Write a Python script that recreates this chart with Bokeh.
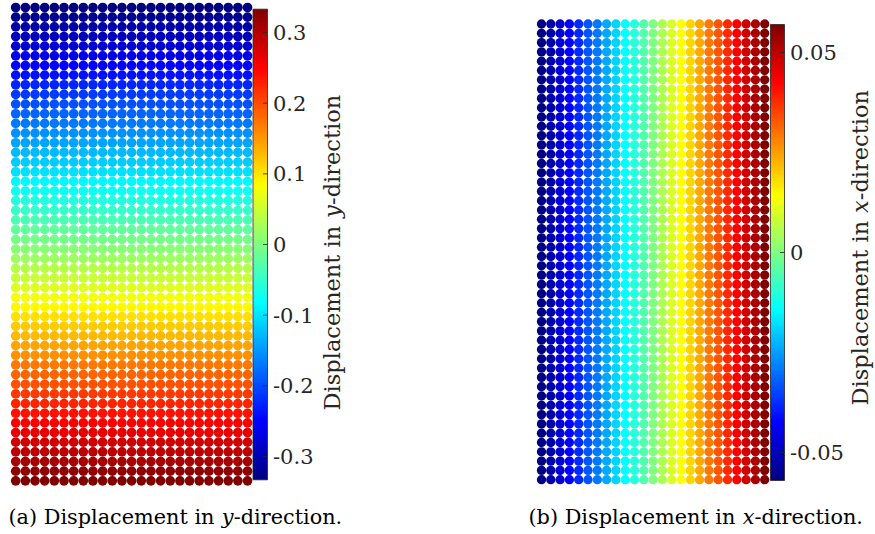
import numpy as np
from math import pi
from bokeh.plotting import figure
from bokeh.models import Range1d, ColumnDataSource, LinearColorMapper
from bokeh.core.properties import value
from bokeh.embed import file_html
from bokeh.resources import INLINE

# ---------------- data ----------------
grid_cols = list(range(25))          # node columns (left -> right)
grid_rows = list(range(50))          # node rows (top -> bottom)

# (a) displacement in y-direction, one value per row (top -> bottom)
uy_rows = [-0.333, -0.320, -0.306, -0.292, -0.279, -0.265, -0.252, -0.238, -0.224, -0.211,
           -0.197, -0.184, -0.170, -0.156, -0.143, -0.129, -0.116, -0.102, -0.088, -0.075,
           -0.061, -0.048, -0.034, -0.020, -0.007, 0.007, 0.020, 0.034, 0.048, 0.061,
           0.075, 0.088, 0.102, 0.116, 0.129, 0.143, 0.156, 0.170, 0.184, 0.197,
           0.211, 0.224, 0.238, 0.252, 0.265, 0.279, 0.292, 0.306, 0.320, 0.333]

# (b) displacement in x-direction, one value per column (left -> right)
ux_cols = [-0.057, -0.052, -0.048, -0.043, -0.038, -0.033, -0.029, -0.024, -0.019, -0.014,
           -0.010, -0.005, 0.000, 0.005, 0.010, 0.014, 0.019, 0.024, 0.029, 0.033,
           0.038, 0.043, 0.048, 0.052, 0.057]

ticks_a = [-0.3, -0.2, -0.1, 0.0, 0.1, 0.2, 0.3]
tick_labels_a = ["-0.3", "-0.2", "-0.1", "0", "0.1", "0.2", "0.3"]
ticks_b = [-0.05, 0.0, 0.05]
tick_labels_b = ["-0.05", "0", "0.05"]

label_a = ["Displacement in ", "y", "-direction"]
label_b = ["Displacement in ", "x", "-direction"]
caption_a = ["(a) Displacement in ", "y", "-direction."]
caption_b = ["(b) Displacement in ", "x", "-direction."]

# ---------------- styling / layout ----------------
W, H = 875, 534
FONT = "DejaVu Serif"
TXT = "#262626"


def jet_palette(n=256):
    pal = []
    for i in range(n):
        t = i / (n - 1)
        r = min(max(1.5 - abs(4 * t - 3), 0), 1)
        g = min(max(1.5 - abs(4 * t - 2), 0), 1)
        b = min(max(1.5 - abs(4 * t - 1), 0), 1)
        pal.append("#%02x%02x%02x" % (round(r * 255), round(g * 255), round(b * 255)))
    return pal


JET = jet_palette()


def xr(v0, p0, v1, p1):
    s = (p1 - p0) / (v1 - v0)
    return Range1d(start=v0 - p0 / s, end=v0 + (W - p0) / s)


def yr(v0, t0, v1, t1):
    # t0/t1 are pixel positions measured from the top of the page
    p0, p1 = H - t0, H - t1
    s = (p1 - p0) / (v1 - v0)
    return Range1d(start=v0 - p0 / s, end=v0 + (H - p0) / s)


# approximate advance widths (em) of DejaVu Serif, used to chain text pieces
EM = {" ": 0.318, "(": 0.390, ")": 0.390, "a": 0.596, "b": 0.642, "D": 0.830, "i": 0.320,
      "s": 0.513, "p": 0.642, "l": 0.320, "c": 0.560, "e": 0.592, "m": 0.948, "n": 0.645,
      "t": 0.402, "-": 0.338, "d": 0.642, "r": 0.478, "o": 0.602, ".": 0.318,
      "x": 0.565, "y": 0.575}


def text_w(s, size):
    return sum(EM.get(ch, 0.6) for ch in s) * size


p = figure(width=W, height=H, x_range=Range1d(0, W), y_range=Range1d(0, H),
           x_axis_type=None, y_axis_type=None, toolbar_location=None,
           output_backend="svg", min_border=0, outline_line_color=None,
           background_fill_color="white", border_fill_color="white")

# panel geometry (pixel anchors)
A_X0, A_Y0, A_STEP = 15.2, 7.0, 9.66
B_X0, B_Y0, B_STEP = 541.0, 23.5, 9.3
nc, nr = len(grid_cols) - 1, len(grid_rows) - 1

p.extra_x_ranges = {
    "ax": xr(0, A_X0, nc, A_X0 + nc * A_STEP),
    "bx": xr(0, B_X0, nc, B_X0 + nc * B_STEP),
}
p.extra_y_ranges = {
    "ay": yr(0, A_Y0, nr, A_Y0 + nr * A_STEP),
    "by": yr(0, B_Y0, nr, B_Y0 + nr * B_STEP),
    "ca": yr(0.3, 32, -0.3, 456),
    "cb": yr(0.05, 52, -0.05, 452),
}

# ---------------- dot grids ----------------
xs = [c for r in grid_rows for c in grid_cols]
ys = [r for r in grid_rows for c in grid_cols]

map_a = LinearColorMapper(palette=JET, low=min(uy_rows), high=max(uy_rows))
map_b = LinearColorMapper(palette=JET, low=min(ux_cols), high=max(ux_cols))

src_a = ColumnDataSource(dict(x=xs, y=ys, v=[uy_rows[r] for r in ys]))
src_b = ColumnDataSource(dict(x=xs, y=ys, v=[ux_cols[c] for c in xs]))

p.circle(x="x", y="y", radius=0.5, source=src_a, line_color=None,
         fill_color={"field": "v", "transform": map_a},
         x_range_name="ax", y_range_name="ay")
p.circle(x="x", y="y", radius=0.5, source=src_b, line_color=None,
         fill_color={"field": "v", "transform": map_b},
         x_range_name="bx", y_range_name="by")


# ---------------- colour bars ----------------
def colorbar(mapper, rname, x0, x1, ticks, labels, lab_x, pieces, lab_base_x, lab_start_top):
    lo, hi = mapper.low, mapper.high
    grad = np.linspace(lo, hi, 256).reshape(256, 1)
    p.image(image=[grad], x=x0, y=lo, dw=x1 - x0, dh=hi - lo, color_mapper=mapper,
            y_range_name=rname)
    p.quad(left=x0, right=x1, bottom=lo, top=hi, fill_color=None,
           line_color=TXT, line_width=0.8, y_range_name=rname)
    p.segment(x0=[x1 - 4.5] * len(ticks), x1=[x1] * len(ticks), y0=ticks, y1=ticks,
              line_color=TXT, line_width=0.8, y_range_name=rname)
    p.text(x=[lab_x] * len(ticks), y=ticks, text=labels, text_font=value(FONT),
           text_font_size="21px", text_color=TXT, text_align="left",
           text_baseline="middle", y_range_name=rname)
    size = 22.5
    pos = H - lab_start_top
    for i, s in enumerate(pieces):
        p.text(x=[lab_base_x], y=[pos], text=[s], angle=pi / 2, text_font=value(FONT),
               text_font_size=f"{size}px", text_color=TXT, text_align="left",
               text_baseline="alphabetic",
               text_font_style="italic" if i == 1 else "normal")
        pos += text_w(s, size)


colorbar(map_a, "ca", 252.5, 267.0, ticks_a, tick_labels_a, 272.5, label_a, 331.0, 410.0)
colorbar(map_b, "cb", 770.0, 784.0, ticks_b, tick_labels_b, 789.5, label_b, 859.0, 405.0)


# ---------------- captions ----------------
def caption(pieces, x_left, base_top, size=20.8):
    x = x_left
    for i, s in enumerate(pieces):
        p.text(x=[x], y=[H - base_top], text=[s], text_font=value(FONT),
               text_font_size=f"{size}px", text_color="black", text_align="left",
               text_baseline="alphabetic",
               text_font_style="italic" if i == 1 else "normal")
        x += text_w(s, size)


caption(caption_a, 8.0, 516.0)
caption(caption_b, 528.0, 516.0)

open("out.html", "w").write(file_html(p, INLINE))
